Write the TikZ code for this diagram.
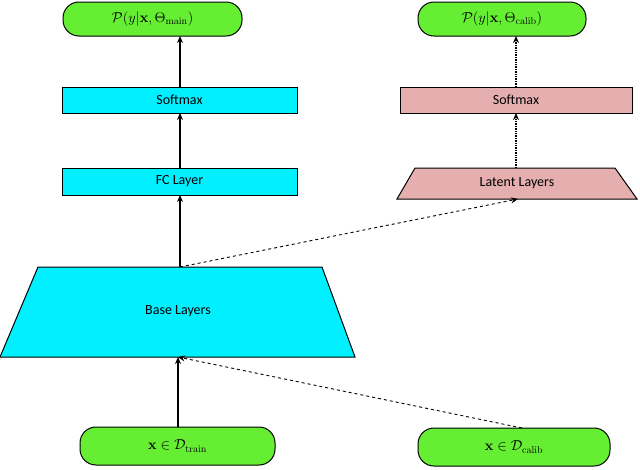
\documentclass[tikz,border=0pt]{standalone}
\usepackage{amsmath}
\usepackage[no-math]{fontspec}
\setmainfont{Carlito}
\usetikzlibrary{arrows.meta}
\begin{document}
\begin{tikzpicture}[x=1pt,y=-1pt,
  term/.style={draw=black,rounded corners=16pt,line width=1pt},
  cyanbox/.style={draw=black,fill=cyanc,line width=1pt},
  pinkbox/.style={draw=black,line width=1pt},
  arr/.style={-{Stealth[length=7pt,width=6pt]},line width=1.4pt},
  dasharr/.style={arr,dashed,line width=0.9pt},
  dotarr/.style={arr,densely dotted,line width=1.4pt},
  lbl/.style={font=\fontsize{14}{16}\selectfont}]
\useasboundingbox (0,0) rectangle (640,469);
\definecolor{termg}{RGB}{102,238,51}
\definecolor{pinkc}{RGB}{230,175,175}
\definecolor{cyanc}{RGB}{0,240,255}
% terminals
\draw[term,fill=termg] (63,2) rectangle (242,36);
\node[lbl] (outm) at (152.5,19) {$\mathcal{P}(y|\mathbf{x},\Theta_{\mathrm{main}})$};
\draw[term,fill=termg] (418,2) rectangle (586,36);
\node[lbl] (outc) at (502,19) {$\mathcal{P}(y|\mathbf{x},\Theta_{\mathrm{calib}})$};
\draw[term,fill=termg] (80,427) rectangle (275,465);
\node[lbl] (intr) at (177.5,446) {$\mathbf{x}\in\mathcal{D}_{\mathrm{train}}$};
\draw[term,fill=termg] (418,428) rectangle (610,466);
\node[lbl] (incal) at (514,447) {$\mathbf{x}\in\mathcal{D}_{\mathrm{calib}}$};
% boxes
\draw[cyanbox] (62,87) rectangle (297,113);
\node[lbl] (smm) at (179.5,100) {Softmax};
\draw[pinkbox,fill=pinkc] (400,87) rectangle (632,113);
\node[lbl] (smc) at (516,100) {Softmax};
\draw[cyanbox] (62,168) rectangle (297,195);
\node[lbl] (fc) at (179.5,181.5) {FC Layer};
\draw[pinkbox,fill=pinkc] (415,168) -- (615,168) -- (637,199) -- (397,199) -- cycle;
\node[lbl] (lat) at (517,183.5) {Latent Layers};
\draw[cyanbox] (38,267) -- (322,267) -- (355,357) -- (0,357) -- cycle;
\node[lbl] (base) at (178,311) {Base Layers};
% anchor coordinates
\coordinate (baseT) at (180,267);
\coordinate (baseB) at (178,357);
\coordinate (latB) at (518,199);
\coordinate (latT) at (516,168);
% connectors
\draw[arr] (178,427) -- (baseB);
\draw[dasharr] (522,428) -- (baseB);
\draw[arr] (baseT) -- (180,195);
\draw[dasharr] (baseT) -- (latB);
\draw[arr] (180,168) -- (180,113);
\draw[arr] (180,87) -- (180,36);
\draw[dotarr] (latT) -- (516,113);
\draw[dotarr] (516,87) -- (516,36);
\end{tikzpicture}
\end{document}
